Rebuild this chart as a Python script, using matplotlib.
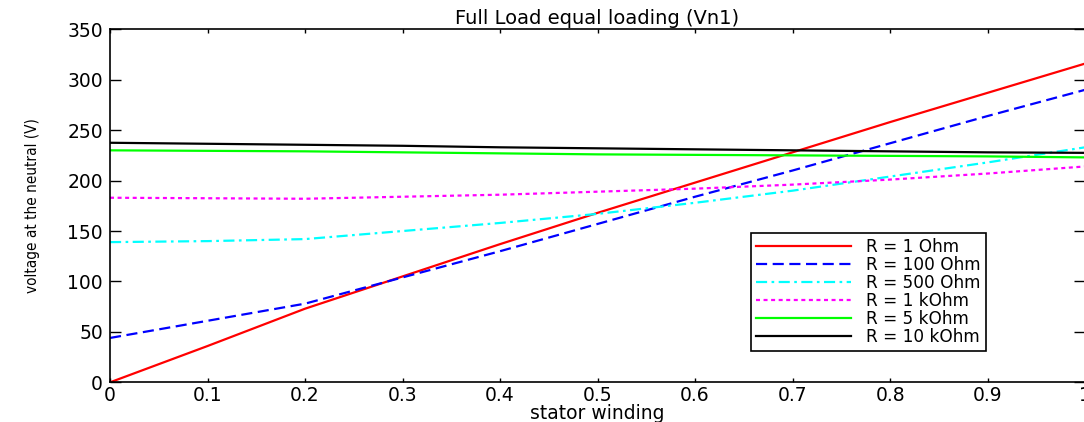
import matplotlib
matplotlib.use('Agg')
from matplotlib import pyplot as plt

# stator winding position
x = [0, 0.1, 0.2, 0.3, 0.4, 0.5, 0.6, 0.7, 0.8, 0.9, 1.0]

# voltage at the neutral (V) for each resistance
r_1 = [0, 36, 73, 105, 137, 168, 198, 228, 258, 287, 316]
r_100 = [44, 61, 78, 104, 130, 157, 184, 210, 237, 264, 290]
r_500 = [139, 140, 142, 150, 158, 167, 178, 190, 204, 218, 233]
r_1k = [183, 182.5, 182, 184, 186, 189, 192, 196, 201, 207, 214]
r_5k = [230, 229.5, 229, 228, 227, 226, 225.5, 225, 224.5, 224, 223]
r_10k = [237.5, 236.5, 235.5, 234.5, 233, 232, 231, 230, 229, 228, 227.5]

labels = ['R = 1 Ohm', 'R = 100 Ohm', 'R = 500 Ohm', 'R = 1 kOhm', 'R = 5 kOhm', 'R = 10 kOhm']

fig = plt.figure(figsize=(10.84, 4.22), dpi=100)
ax = fig.add_axes([0.1015, 0.094, 0.8995, 0.8366])

lw = 1.6
ax.plot(x, r_1, color='#ff0000', lw=lw, label=labels[0])
ax.plot(x, r_100, color='#0000ff', lw=lw, dashes=(5, 2.5), label=labels[1])
ax.plot(x, r_500, color='#00ffff', lw=lw, dashes=(5, 2, 1.2, 2), label=labels[2])
ax.plot(x, r_1k, color='#ff00ff', lw=lw, dashes=(1.8, 1.6), label=labels[3])
ax.plot(x, r_5k, color='#00ff00', lw=lw, label=labels[4])
ax.plot(x, r_10k, color='#000000', lw=lw, label=labels[5])

ax.set_xlim(0, 1)
ax.set_ylim(0, 350)
ax.set_xticks([0, 0.1, 0.2, 0.3, 0.4, 0.5, 0.6, 0.7, 0.8, 0.9, 1.0])
ax.set_xticklabels(['0', '0.1', '0.2', '0.3', '0.4', '0.5', '0.6', '0.7', '0.8', '0.9', '1'])
ax.set_yticks(range(0, 351, 50))
ax.tick_params(axis='both', direction='in', top=True, right=True, labelsize=13.5, width=1)
ax.tick_params(axis='y', length=8, pad=5)
ax.tick_params(axis='x', length=3, pad=3)
for s in ax.spines.values():
    s.set_linewidth(1.2)

ax.set_title('Full Load equal loading (Vn1)', fontsize=14, pad=4)
ax.set_xlabel('stator winding', fontsize=13.5, labelpad=-1)
ax.set_ylabel('voltage at the neutral (V)', fontsize=11, family='DejaVu Sans',
              fontstretch='condensed', labelpad=20)

leg = ax.legend(loc='upper left', bbox_to_anchor=(0.657, 0.423), borderaxespad=0,
                fontsize=12.2, handlelength=5.6, handletextpad=0.9, labelspacing=0.0,
                borderpad=0.3, fancybox=False, framealpha=1, edgecolor='black')
leg.get_frame().set_linewidth(1.2)

plt.savefig('out.png', dpi=100)
